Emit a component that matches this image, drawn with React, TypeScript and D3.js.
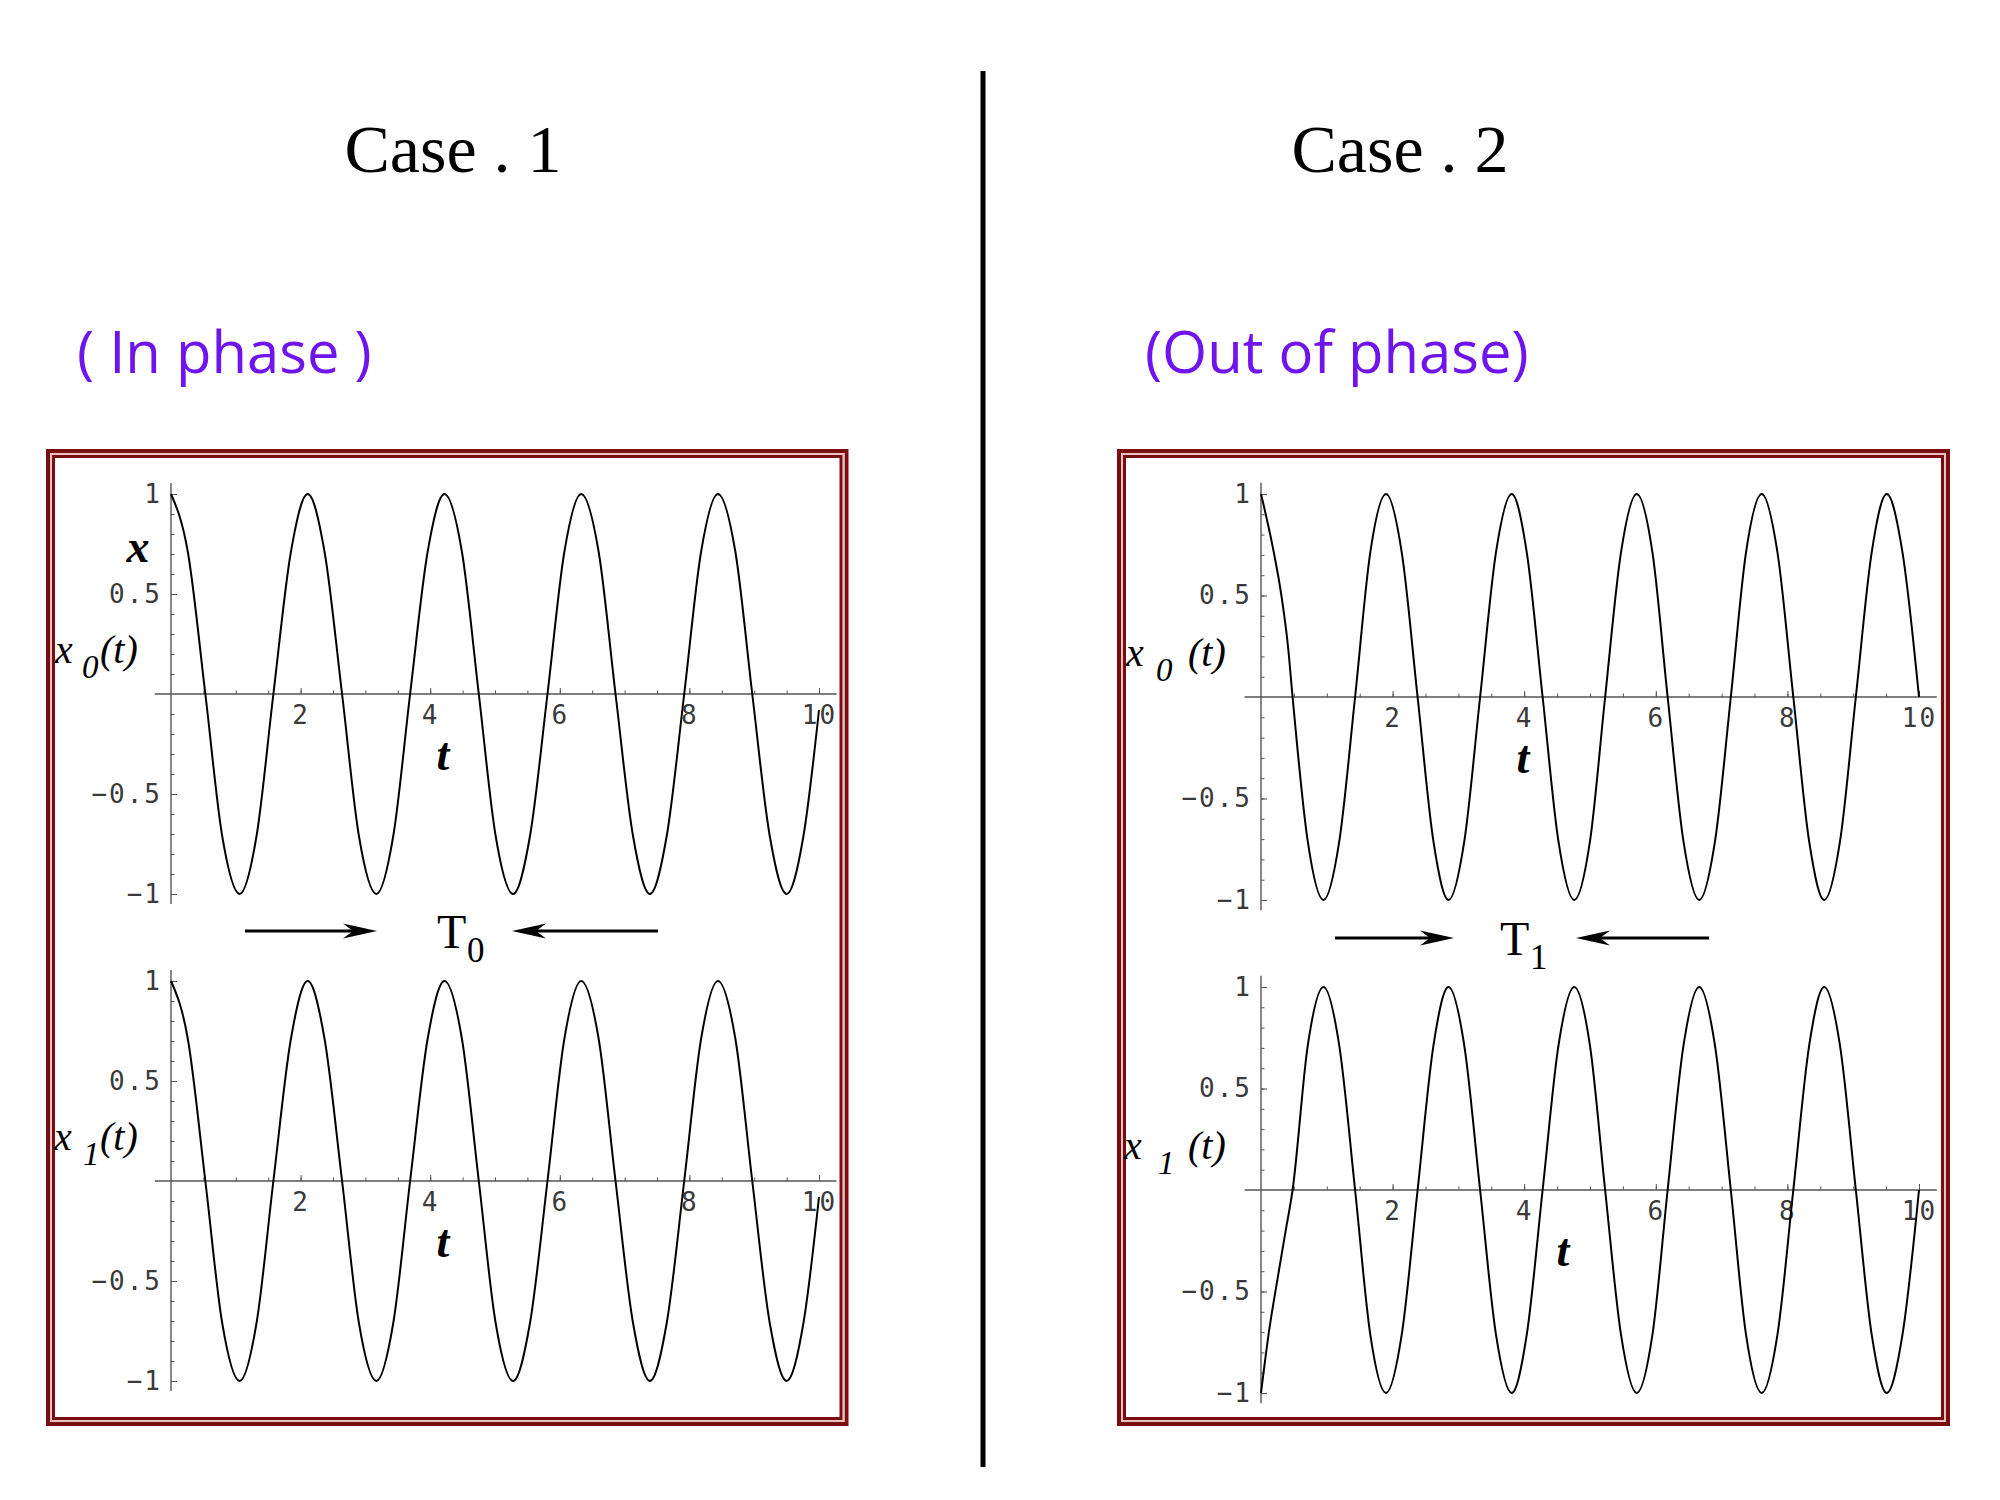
import React, { useEffect, useRef } from "react";
import * as d3 from "d3";

// Case 1 (in phase): x0(t) and x1(t)
const case1T = [0, 0.26, 0.53, 0.79, 1.06, 1.32, 1.58, 1.85, 2.11, 2.37, 2.64, 2.9, 3.17, 3.43, 3.69, 3.96, 4.22, 4.49, 4.75, 5.01, 5.28, 5.54, 5.81, 6.07, 6.33, 6.6, 6.86, 7.13, 7.39, 7.65, 7.92, 8.18, 8.44, 8.71, 8.97, 9.24, 9.5, 9.76, 10];
const case1X0 = [1, 0.71, 0, -0.71, -1, -0.71, 0, 0.71, 1, 0.71, 0, -0.71, -1, -0.71, 0, 0.71, 1, 0.71, 0, -0.71, -1, -0.71, 0, 0.71, 1, 0.71, 0, -0.71, -1, -0.71, 0, 0.71, 1, 0.71, 0, -0.71, -1, -0.71, -0.08];
const case1X1 = [1, 0.71, 0, -0.71, -1, -0.71, 0, 0.71, 1, 0.71, 0, -0.71, -1, -0.71, 0, 0.71, 1, 0.71, 0, -0.71, -1, -0.71, 0, 0.71, 1, 0.71, 0, -0.71, -1, -0.71, 0, 0.71, 1, 0.71, 0, -0.71, -1, -0.71, -0.08];

// Case 2 (out of phase)
const case2T0 = [0, 0.19, 0.31, 0.41, 0.48, 0.71, 0.95, 1.19, 1.43, 1.66, 1.9, 2.14, 2.38, 2.62, 2.85, 3.09, 3.33, 3.57, 3.81, 4.04, 4.28, 4.52, 4.76, 5.0, 5.23, 5.47, 5.71, 5.95, 6.18, 6.42, 6.66, 6.9, 7.14, 7.37, 7.61, 7.85, 8.09, 8.33, 8.56, 8.8, 9.04, 9.28, 9.51, 9.75, 10];
const case2X0 = [1, 0.72, 0.5, 0.25, 0, -0.71, -1, -0.71, 0, 0.71, 1, 0.71, 0, -0.71, -1, -0.71, 0, 0.71, 1, 0.71, 0, -0.71, -1, -0.71, 0, 0.71, 1, 0.71, 0, -0.71, -1, -0.71, 0, 0.71, 1, 0.71, 0, -0.71, -1, -0.71, 0, 0.71, 1, 0.71, 0];
const case2T1 = [0, 0.12, 0.25, 0.37, 0.48, 0.71, 0.95, 1.19, 1.43, 1.66, 1.9, 2.14, 2.38, 2.62, 2.85, 3.09, 3.33, 3.57, 3.81, 4.04, 4.28, 4.52, 4.76, 5.0, 5.23, 5.47, 5.71, 5.95, 6.18, 6.42, 6.66, 6.9, 7.14, 7.37, 7.61, 7.85, 8.09, 8.33, 8.56, 8.8, 9.04, 9.28, 9.51, 9.75, 10];
const case2X1 = [-1, -0.7, -0.44, -0.21, 0, 0.71, 1, 0.71, 0, -0.71, -1, -0.71, 0, 0.71, 1, 0.71, 0, -0.71, -1, -0.71, 0, 0.71, 1, 0.71, 0, -0.71, -1, -0.71, 0, 0.71, 1, 0.71, 0, -0.71, -1, -0.71, 0, 0.71, 1, 0.71, 0, -0.71, -1, -0.71, 0];

const xTicks = [2, 4, 6, 8, 10];
const xTickLabels = ["2", "4", "6", "8", "10"];
const yTicks = [-1, -0.5, 0.5, 1];
const yTickLabels = ["\u22121", "\u22120.5", "0.5", "1"];

const titles = ["Case . 1", "Case . 2"];
const subtitles = ["( In phase )", "(Out of phase)"];

const SERIF = "'Liberation Serif', 'Times New Roman', serif";
const MONO = "'DejaVu Sans Mono', monospace";
const FRAME = "#7a0d0f";
const PURPLE = "#6f14ec";

const panels = [
  { t: case1T, v: case1X0, x0: 171, x10: 819, yZero: 694, unit: 200, sub: "0", lab: [55, 82, 100], tLab: 443 },
  { t: case1T, v: case1X1, x0: 171, x10: 819, yZero: 1181, unit: 200, sub: "1", lab: [54, 83, 100], tLab: 443 },
  { t: case2T0, v: case2X0, x0: 1261, x10: 1919, yZero: 697, unit: 203, sub: "0", lab: [1126, 1156, 1188], tLab: 1523 },
  { t: case2T1, v: case2X1, x0: 1261, x10: 1919, yZero: 1190, unit: 203, sub: "1", lab: [1124, 1158, 1188], tLab: 1563 },
];

const App = () => {
  const ref = useRef<SVGSVGElement | null>(null);

  useEffect(() => {
    const svg = d3.select(ref.current);
    svg.selectAll("*").remove();

    svg.append("rect").attr("width", 2000).attr("height", 1500).attr("fill", "#fff");

    // divider
    svg.append("line")
      .attr("x1", 983).attr("x2", 983).attr("y1", 71).attr("y2", 1467)
      .attr("stroke", "#000").attr("stroke-width", 5);

    // titles
    [453, 1400].forEach((cx, i) => {
      svg.append("text").attr("x", cx).attr("y", 172).attr("text-anchor", "middle")
        .attr("font-family", SERIF).attr("font-size", 68).attr("fill", "#000")
        .text(titles[i]);
    });
    [77, 1145].forEach((lx, i) => {
      svg.append("text").attr("x", lx).attr("y", 373)
        .attr("font-family", "'Open Sans', 'Noto Sans', sans-serif").attr("font-size", 58).attr("fill", PURPLE)
        .text(subtitles[i]);
    });

    // double frames
    [[46, 848.5], [1117, 1950]].forEach(([l, r]) => {
      const top = 449, bot = 1426;
      const fr = (inset: number, color: string, w: number) =>
        svg.append("rect")
          .attr("x", l + inset).attr("y", top + inset)
          .attr("width", r - l - 2 * inset).attr("height", bot - top - 2 * inset)
          .attr("fill", "none").attr("stroke", color).attr("stroke-width", w);
      fr(2, FRAME, 4);
      fr(5, "#e9c4c4", 2);
      fr(7.5, FRAME, 3);
    });

    panels.forEach((p) => {
      const x = d3.scaleLinear().domain([0, 10]).range([p.x0, p.x10]);
      const y = d3.scaleLinear().domain([-1, 1]).range([p.yZero + p.unit, p.yZero - p.unit]);
      const g = svg.append("g");

      // axis lines
      g.append("line").attr("x1", x(-0.25)).attr("x2", x(10.27)).attr("y1", y(0)).attr("y2", y(0))
        .attr("stroke", "#555").attr("stroke-width", 1.4);
      g.append("line").attr("x1", x(0)).attr("x2", x(0)).attr("y1", y(1.055)).attr("y2", y(-1.05))
        .attr("stroke", "#555").attr("stroke-width", 1.4);

      // x ticks
      g.append("g").attr("transform", `translate(0,${y(0)})`)
        .call(d3.axisBottom(x).tickValues(d3.range(0.5, 10, 0.5)).tickSizeInner(-3.5).tickSizeOuter(0).tickFormat(() => ""))
        .attr("color", "#555")
        .call((a) => a.select(".domain").remove());
      g.append("g").attr("transform", `translate(0,${y(0)})`)
        .call(d3.axisBottom(x).tickValues(xTicks).tickSizeInner(-6).tickSizeOuter(0).tickPadding(12)
          .tickFormat((d, i) => xTickLabels[i]))
        .attr("color", "#555")
        .attr("font-family", MONO).attr("font-size", 26)
        .call((a) => a.select(".domain").remove())
        .call((a) => a.selectAll("text").attr("fill", "#3a3a3a").attr("letter-spacing", 2));

      // y ticks
      g.append("g").attr("transform", `translate(${x(0)},0)`)
        .call(d3.axisLeft(y).tickValues(d3.range(-10, 11).filter((k) => k !== 0).map((k) => k / 10))
          .tickSizeInner(-3.5).tickSizeOuter(0).tickFormat(() => ""))
        .attr("color", "#555")
        .call((a) => a.select(".domain").remove());
      g.append("g").attr("transform", `translate(${x(0)},0)`)
        .call(d3.axisLeft(y).tickValues(yTicks).tickSizeInner(-6).tickSizeOuter(0).tickPadding(9)
          .tickFormat((d, i) => yTickLabels[i]))
        .attr("color", "#555")
        .attr("font-family", MONO).attr("font-size", 26)
        .call((a) => a.select(".domain").remove())
        .call((a) => a.selectAll("text").attr("fill", "#3a3a3a").attr("letter-spacing", 2));

      // curve
      const line = d3.line<number>()
        .x((d, i) => x(p.t[i]))
        .y((d) => y(d))
        .curve(d3.curveMonotoneX);
      g.append("path").datum(p.v).attr("d", line).attr("fill", "none")
        .attr("stroke", "#000").attr("stroke-width", 2);

      // y label  x_0(t)
      const base = p.yZero - 31;
      g.append("text").attr("x", p.lab[0]).attr("y", base).attr("font-family", SERIF)
        .attr("font-style", "italic").attr("font-size", 40).text("x");
      g.append("text").attr("x", p.lab[1]).attr("y", base + 15).attr("font-family", SERIF)
        .attr("font-style", "italic").attr("font-size", 33).text(p.sub);
      g.append("text").attr("x", p.lab[2]).attr("y", base).attr("font-family", SERIF)
        .attr("font-style", "italic").attr("font-size", 40).text("(t)");

      // t label
      g.append("text").attr("x", p.tLab).attr("y", p.yZero + 76).attr("text-anchor", "middle")
        .attr("font-family", SERIF).attr("font-style", "italic").attr("font-weight", "bold")
        .attr("font-size", 46).text("t");
    });

    // bold x on the first plot
    svg.append("text").attr("x", 138).attr("y", 562).attr("text-anchor", "middle")
      .attr("font-family", SERIF).attr("font-style", "italic").attr("font-weight", "bold")
      .attr("font-size", 46).text("x");

    // period markers
    const arrow = (from: number, tip: number, yy: number) => {
      const dir = Math.sign(tip - from);
      svg.append("line").attr("x1", from).attr("x2", tip - dir * 20).attr("y1", yy).attr("y2", yy)
        .attr("stroke", "#000").attr("stroke-width", 3);
      svg.append("path")
        .attr("d", `M${tip},${yy} L${tip - dir * 34},${yy - 7.5} L${tip - dir * 24},${yy} L${tip - dir * 34},${yy + 7.5} Z`)
        .attr("fill", "#000");
    };
    const period = (l0: number, l1: number, r0: number, r1: number, yy: number, tx: number, sub: string) => {
      arrow(l0, l1, yy);
      arrow(r1, r0, yy);
      svg.append("text").attr("x", tx).attr("y", yy + 17).attr("font-family", SERIF)
        .attr("font-size", 48).text("T");
      svg.append("text").attr("x", tx + 30).attr("y", yy + 31).attr("font-family", SERIF)
        .attr("font-size", 35).text(sub);
    };
    period(245, 377, 512, 658, 931, 437, "0");
    period(1335, 1454, 1576, 1709, 938, 1500, "1");
  }, []);

  return (
    <svg ref={ref} width={2000} height={1500} style={{ position: "absolute", left: 0, top: 0 }} />
  );
};

export default App;
